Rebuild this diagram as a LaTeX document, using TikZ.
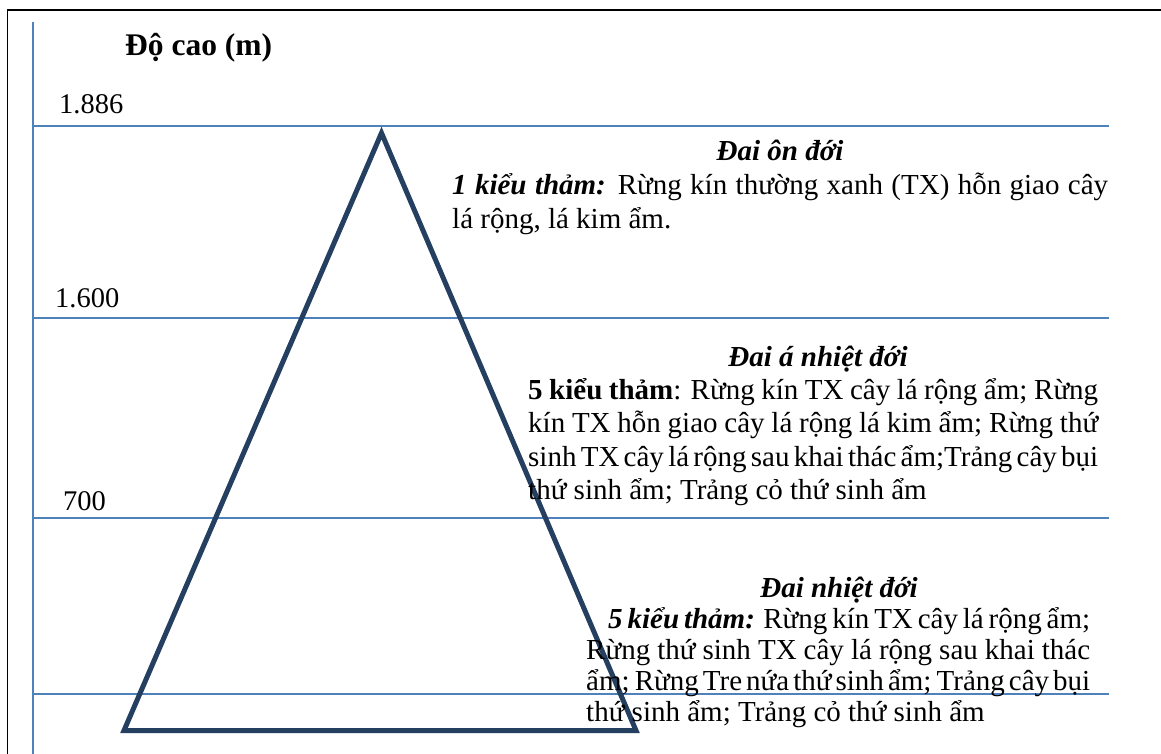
\documentclass[tikz,border=0pt]{standalone}
\usepackage{fontspec}
\setmainfont{Liberation Serif}
\definecolor{gridblue}{HTML}{4F81BD}
\definecolor{peak}{HTML}{243F60}
\newcommand{\loosespaces}{\spaceskip=0.25em plus 0.6em minus 0.14em\relax}
\tikzset{
  frameline/.style={black, line width=1.2pt},
  axisline/.style={gridblue, line width=2.5pt},
  levelline/.style={gridblue, line width=2pt},
  peakline/.style={peak, line width=5pt, line join=miter},
  body/.style={font=\fontsize{29}{33.5}\selectfont, inner sep=0pt},
  para/.style={body, anchor=base west, align=justify},
  beltname/.style={inner sep=0pt, anchor=base, font=\fontsize{29}{33.5}\selectfont\bfseries\itshape},
  ticklabel/.style={inner sep=0pt, anchor=base west, font=\fontsize{28.5}{33}\selectfont},
}
\begin{document}
\hyphenpenalty=10000 \exhyphenpenalty=10000
\begin{tikzpicture}[x=1pt, y=-1pt]
\useasboundingbox (0,0) rectangle (1161,754);

% outer frame (top and left edges)
\coordinate (fbl) at (7.5,754);
\coordinate (ftl) at (7.5,10);
\coordinate (ftr) at (1161,10);
\draw[frameline] (fbl) -- (ftl) -- (ftr);

% altitude axis
\coordinate (axbot) at (33,754);
\coordinate (axtop) at (33,22);
\draw[axisline] (axbot) -- (axtop);

% altitude levels
\foreach \n/\y in {a/126, b/318, c/518, d/694} {
  \coordinate (l\n w) at (33,\y);
  \coordinate (l\n e) at (1109,\y);
  \draw[levelline] (l\n w) -- (l\n e);
}

% mountain profile
\coordinate (apex) at (381.5,133);
\coordinate (bl) at (124,730.5);
\coordinate (br) at (636,730.5);
\draw[peakline] (apex) -- (br) -- (bl) -- cycle;

% axis title and level values
\node[inner sep=0pt, anchor=base west, font=\fontsize{31.5}{36}\selectfont\bfseries] (title) at (125,55.5) {Độ cao (m)};
\node[ticklabel] (v1886) at (59,114) {1.886};
\node[ticklabel] (v1600) at (55,307) {1.600};
\node[ticklabel] (v700) at (63,510) {700};

% temperate belt
\node[beltname] (h1) at (780,161) {Đai ôn đới};
\node[para, text width=656pt] (t1) at (452,195)
  {\loosespaces\textbf{\textit{1 kiểu thảm:}} Rừng kín thường xanh (TX) hỗn giao cây\linebreak lá rộng, lá kim ẩm.};

% subtropical belt
\node[beltname] (h2) at (818,366) {Đai á nhiệt đới};
\node[para, text width=570pt] (t2) at (528,399)
  {\loosespaces\textbf{5 kiểu thảm}: Rừng kín TX cây lá rộng ẩm; Rừng\linebreak kín TX hỗn giao cây lá rộng lá kim ẩm; Rừng thứ\linebreak sinh TX cây lá rộng sau khai thác ẩm;Trảng cây bụi\linebreak thứ sinh ẩm; Trảng cỏ thứ sinh ẩm};

% tropical belt
\node[beltname] (h3) at (839,597) {Đai nhiệt đới};
\node[para, text width=504pt, font=\fontsize{29}{31.3}\selectfont] (t3) at (586,628)
  {\loosespaces\hspace*{22pt}\textbf{\textit{5 kiểu thảm:}} Rừng kín TX cây lá rộng ẩm;\linebreak Rừng thứ sinh TX cây lá rộng sau khai thác\linebreak ẩm; Rừng Tre nứa thứ sinh ẩm; Trảng cây bụi\linebreak thứ sinh ẩm; Trảng cỏ thứ sinh ẩm};
\end{tikzpicture}
\end{document}
